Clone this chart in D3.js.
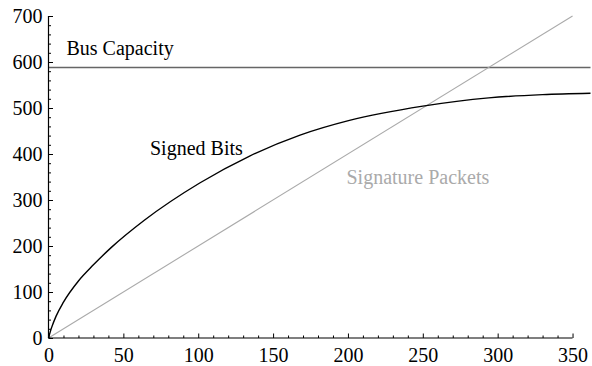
<!DOCTYPE html>
<html>
<head>
<meta charset="utf-8">
<script src="https://cdn.jsdelivr.net/npm/d3@7"></script>
<style>
  html, body { margin: 0; padding: 0; background: #fff; }
  svg { display: block; }
  text { font-family: "Liberation Serif", "Times New Roman", serif; }
</style>
</head>
<body>
<div id="chart"></div>
<script>
// ---- data ----
const signedBitsX = [0, 2, 5, 10, 20, 30, 42, 64, 101, 134, 168, 201, 250, 294, 330, 362];
const signedBitsY = [0, 22, 47, 78, 124, 159, 197, 256, 337, 395, 441, 473, 504, 522, 529, 532];
const packetsX = [0, 350];
const packetsY = [0, 700];
const busX = [0, 362];
const busY = [588, 588];
const xTicks = [0, 50, 100, 150, 200, 250, 300, 350];
const yTicks = [0, 100, 200, 300, 400, 500, 600, 700];
const seriesLabels = ["Bus Capacity", "Signed Bits", "Signature Packets"];

const W = 592, H = 366;
const svg = d3.select("#chart").append("svg").attr("width", W).attr("height", H);

const x = d3.scaleLinear().domain([0, 362]).range([48.5, 590.5]);
const y = d3.scaleLinear().domain([0, 700]).range([338, 16]);

const toPts = (xs, ys) => xs.map((v, i) => [v, ys[i]]);
const line = d3.line().x(d => x(d[0])).y(d => y(d[1]));

// series
svg.append("path").datum(toPts(busX, busY))
  .attr("d", line).attr("fill", "none").attr("stroke", "#666").attr("stroke-width", 1.4);
svg.append("path").datum(toPts(packetsX, packetsY))
  .attr("d", line).attr("fill", "none").attr("stroke", "#aaa").attr("stroke-width", 1.1);
svg.append("path").datum(toPts(signedBitsX, signedBitsY))
  .attr("d", d3.line().x(d => x(d[0])).y(d => y(d[1])).curve(d3.curveMonotoneX))
  .attr("fill", "none").attr("stroke", "#000").attr("stroke-width", 1.4);

// axes
const fmt = d3.format("d");
const yMinor = d3.range(0, 701, 20).filter(v => v % 100 !== 0);
const xMinor = d3.range(0, 351, 10).filter(v => v % 50 !== 0);

const yAx = svg.append("g").attr("transform", `translate(${x(0)},0)`)
  .call(d3.axisLeft(y).tickValues(yTicks).tickFormat(fmt).tickSizeInner(-4.5).tickSizeOuter(0).tickPadding(6));
yAx.select(".domain").remove();
const yAxMinor = svg.append("g").attr("transform", `translate(${x(0)},0)`)
  .call(d3.axisLeft(y).tickValues(yMinor).tickFormat("").tickSizeInner(-2.5).tickSizeOuter(0));
yAxMinor.select(".domain").remove();

const xAx = svg.append("g").attr("transform", `translate(0,${y(0)})`)
  .call(d3.axisBottom(x).tickValues(xTicks).tickFormat(fmt).tickSizeInner(-4.5).tickSizeOuter(0).tickPadding(10));
xAx.select(".domain").remove();
const xAxMinor = svg.append("g").attr("transform", `translate(0,${y(0)})`)
  .call(d3.axisBottom(x).tickValues(xMinor).tickFormat("").tickSizeInner(-2.5).tickSizeOuter(0));
xAxMinor.select(".domain").remove();

svg.selectAll(".tick line").attr("stroke", "#000").attr("stroke-width", 1);
svg.selectAll(".tick text").attr("font-family", "Liberation Serif").attr("font-size", 20).attr("fill", "#000");

// axis lines
svg.append("line").attr("x1", x(0)).attr("x2", x(0)).attr("y1", y(0)).attr("y2", y(700))
  .attr("stroke", "#000").attr("stroke-width", 1.2);
svg.append("line").attr("x1", x(0)).attr("x2", x(350)).attr("y1", y(0)).attr("y2", y(0))
  .attr("stroke", "#000").attr("stroke-width", 1.2);

// labels
svg.append("text").attr("x", 66.5).attr("y", 54.5).attr("font-size", 20).attr("fill", "#000").text(seriesLabels[0]);
svg.append("text").attr("x", 150).attr("y", 155).attr("font-size", 20).attr("fill", "#000").text(seriesLabels[1]);
svg.append("text").attr("x", 346.5).attr("y", 184).attr("font-size", 20).attr("fill", "#aaa").text(seriesLabels[2]);
</script>
</body>
</html>
